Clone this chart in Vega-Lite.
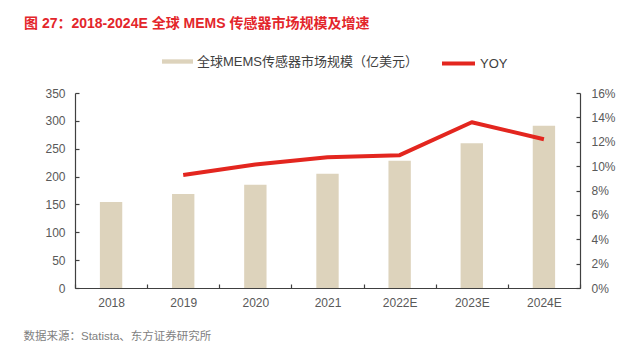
{
  "$schema": "https://vega.github.io/schema/vega-lite/v6.json",
  "width": 505,
  "height": 195,
  "autosize": {"type": "none"},
  "padding": {"left": 75, "top": 93, "right": 61, "bottom": 73},
  "background": "white",
  "title": {
    "text": "图 27：2018-2024E 全球 MEMS 传感器市场规模及增速",
    "anchor": "start",
    "frame": "group",
    "dx": -51,
    "offset": 14,
    "fontSize": 14,
    "fontWeight": "bold",
    "color": "#e3262b",
    "font": "Liberation Sans, Noto Sans CJK SC, sans-serif"
  },
  "data": {
    "values": [
      {"year": "2018", "market": 154.4, "yoy": null},
      {"year": "2019", "market": 168.7, "yoy": 0.0927},
      {"year": "2020", "market": 185.4, "yoy": 0.1013},
      {"year": "2021", "market": 205.2, "yoy": 0.1073},
      {"year": "2022E", "market": 228.5, "yoy": 0.1090},
      {"year": "2023E", "market": 259.7, "yoy": 0.1360},
      {"year": "2024E", "market": 291.3, "yoy": 0.1220}
    ]
  },
  "encoding": {
    "x": {
      "field": "year",
      "type": "nominal",
      "sort": null,
      "scale": {"paddingInner": 0, "paddingOuter": 0},
      "axis": {
        "title": "数据来源：Statista、东方证券研究所",
        "titleX": -52,
        "titleY": 48,
        "titleAlign": "left",
        "titleBaseline": "middle",
        "titleFontSize": 11.5,
        "titleFontWeight": "normal",
        "titleColor": "#7f7f7f",
        "labelAngle": 0,
        "tickBand": "extent",
        "tickSize": -4,
        "labelPadding": 13
      }
    }
  },
  "layer": [
    {
      "mark": {"type": "bar", "width": {"band": 0.31}},
      "encoding": {
        "y": {
          "field": "market",
          "type": "quantitative",
          "scale": {"domain": [0, 350], "nice": false},
          "axis": {
            "title": null,
            "values": [0, 50, 100, 150, 200, 250, 300, 350],
            "tickSize": -4,
            "labelPadding": 14
          }
        },
        "color": {
          "datum": "全球MEMS传感器市场规模（亿美元）",
          "type": "nominal",
          "scale": {"range": ["#ddd3bc"]},
          "legend": {
            "orient": "none",
            "legendX": 87,
            "legendY": -47,
            "title": null,
            "padding": 0,
            "symbolType": "M-1,-0.14H1V0.14H-1Z",
            "symbolSize": 961,
            "symbolStrokeWidth": 0,
            "labelOffset": 4
          }
        }
      }
    },
    {
      "mark": {"type": "line", "strokeWidth": 4, "strokeJoin": "round"},
      "encoding": {
        "y": {
          "field": "yoy",
          "type": "quantitative",
          "scale": {"domain": [0, 0.16], "nice": false},
          "axis": {
            "title": null,
            "orient": "right",
            "format": ".0%",
            "values": [0, 0.02, 0.04, 0.06, 0.08, 0.1, 0.12, 0.14, 0.16],
            "tickSize": -4,
            "labelPadding": 15
          }
        },
        "color": {
          "datum": "YOY",
          "type": "nominal",
          "scale": {"range": ["#e3261f"]},
          "legend": {
            "orient": "none",
            "legendX": 365,
            "legendY": -48,
            "title": null,
            "padding": 0,
            "symbolType": "stroke",
            "symbolSize": 1089,
            "symbolStrokeWidth": 4,
            "labelOffset": 3
          }
        }
      }
    }
  ],
  "resolve": {"scale": {"y": "independent", "color": "independent"}, "legend": {"color": "independent"}},
  "config": {
    "font": "Liberation Sans, Noto Sans CJK SC, sans-serif",
    "view": {"stroke": null},
    "axis": {
      "grid": false,
      "domainColor": "#404040",
      "domainWidth": 1.2,
      "tickColor": "#404040",
      "tickWidth": 1.2,
      "labelColor": "#595959",
      "labelFontSize": 12,
      "labelFont": "Liberation Sans, Noto Sans CJK SC, sans-serif"
    },
    "legend": {
      "labelFontSize": 13,
      "labelColor": "#404040",
      "labelFont": "Liberation Sans, Noto Sans CJK SC, sans-serif",
      "labelLimit": 400
    }
  }
}
